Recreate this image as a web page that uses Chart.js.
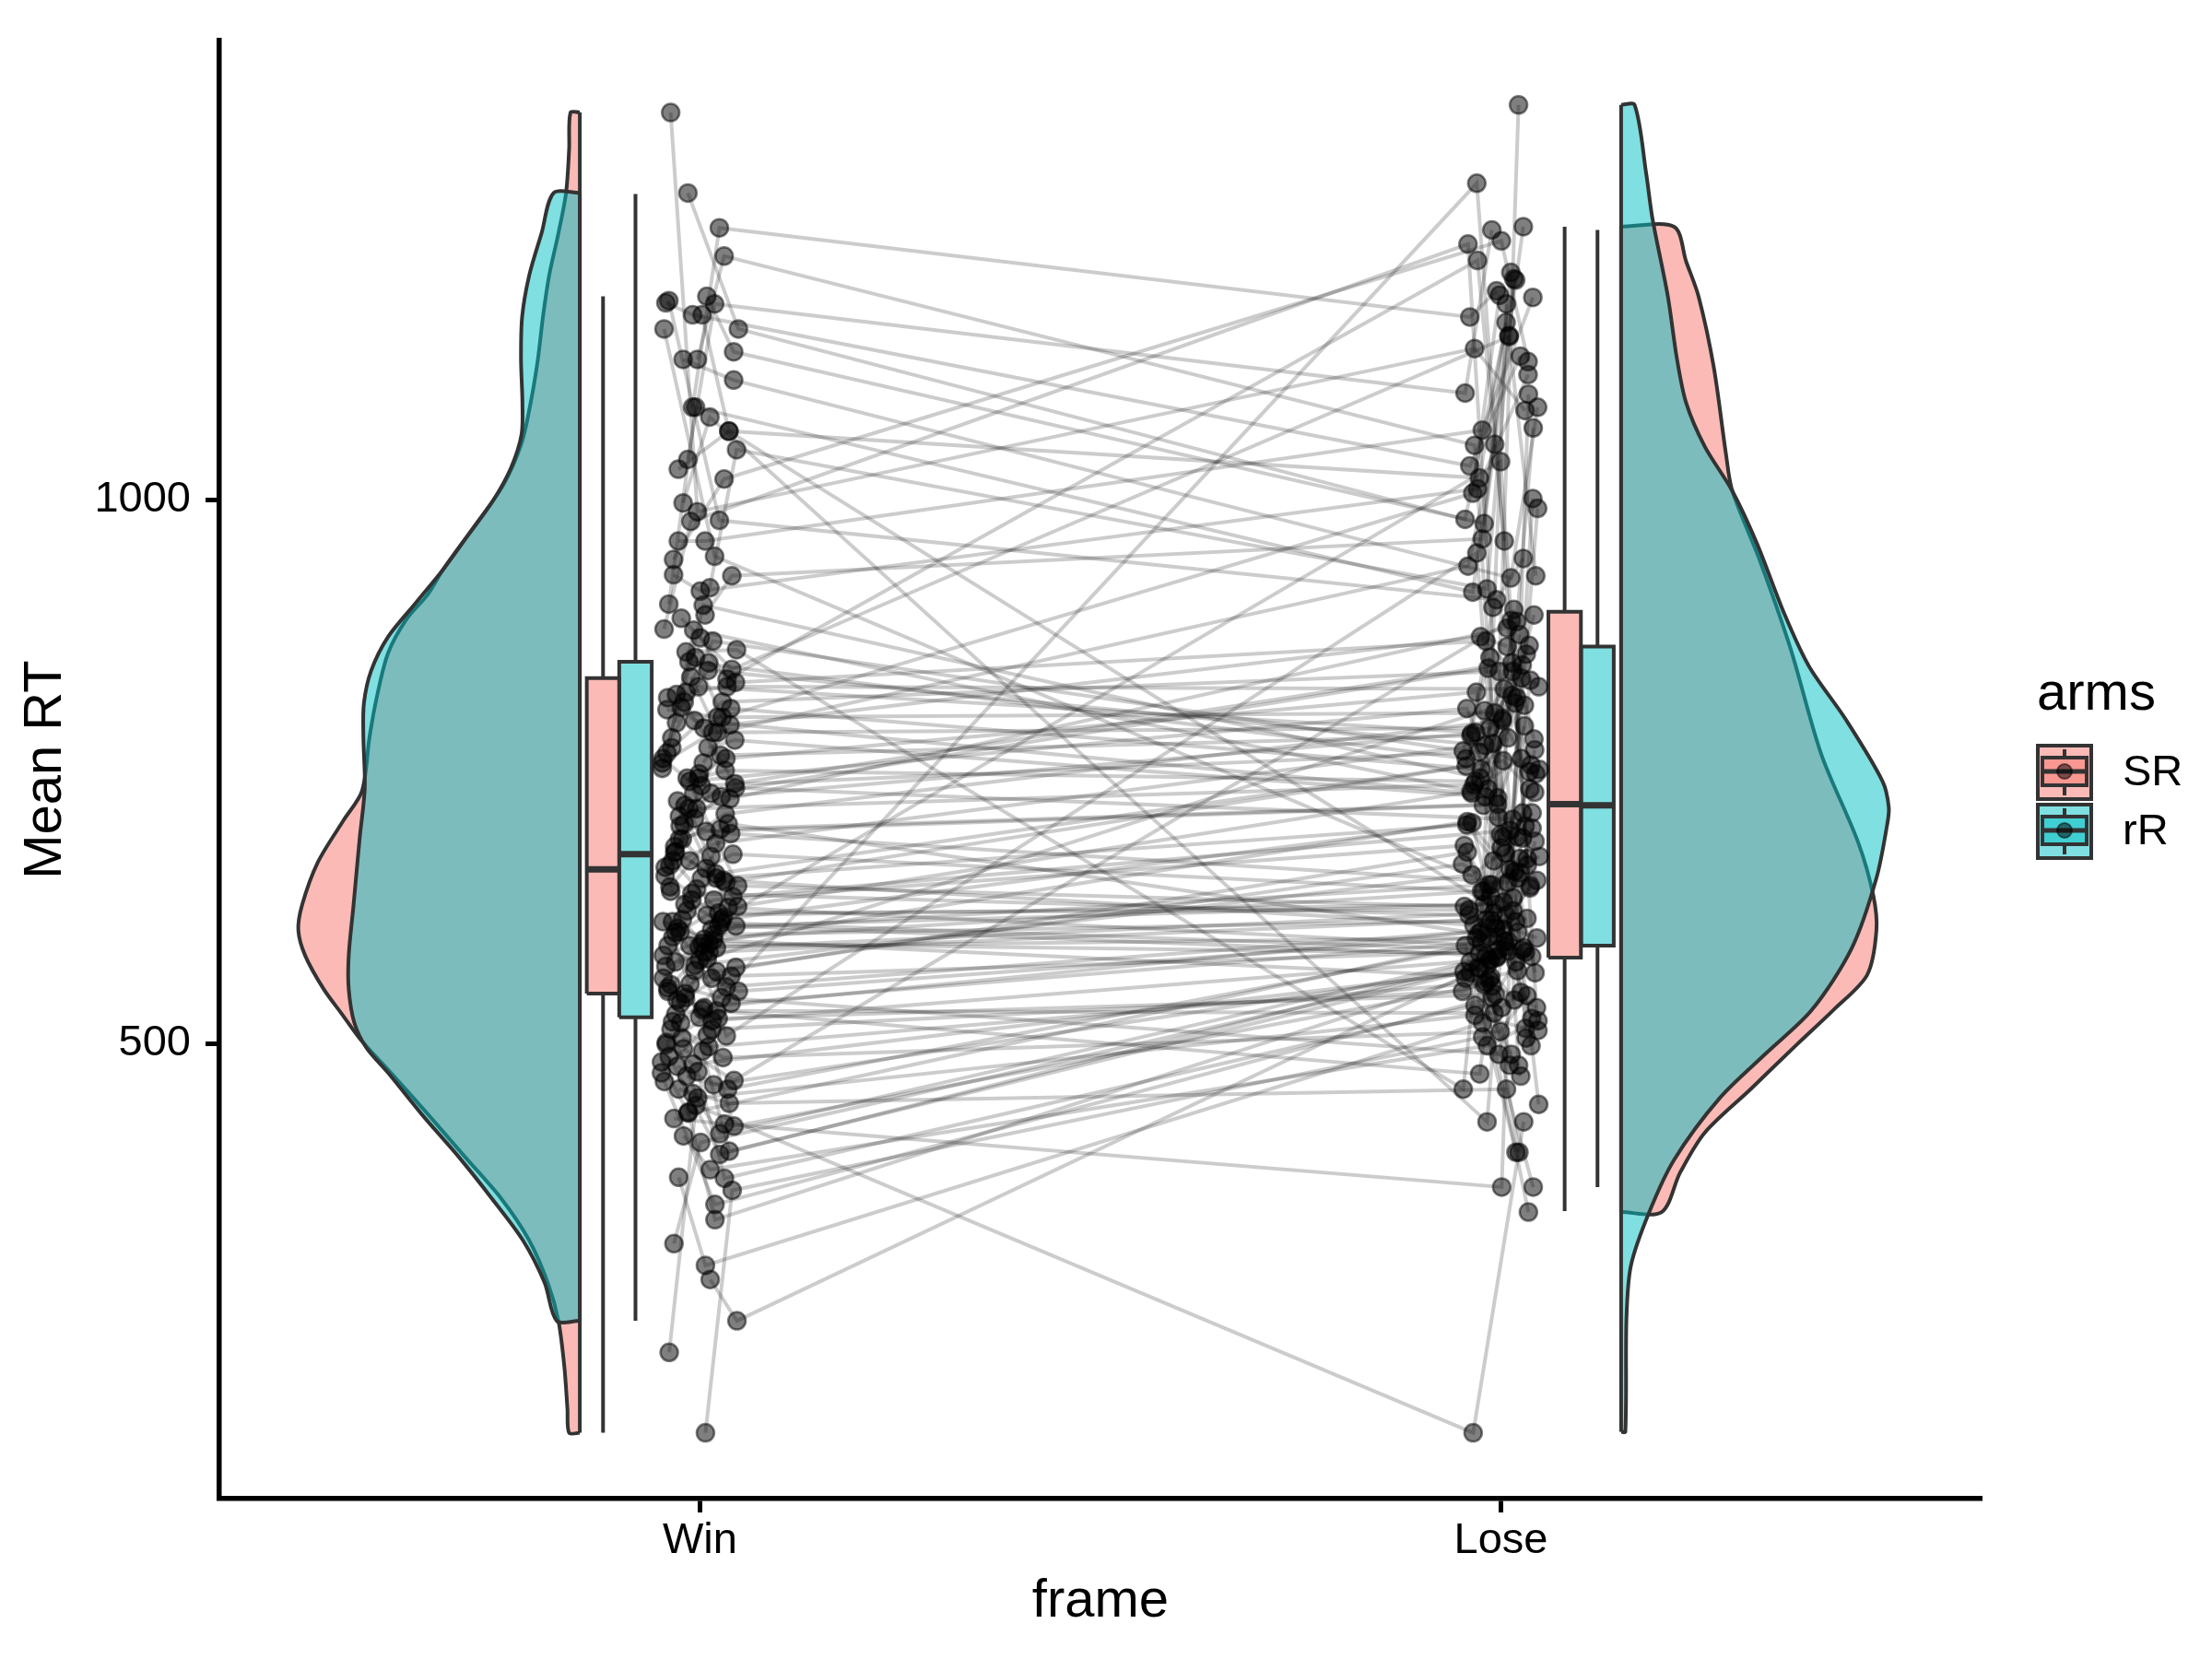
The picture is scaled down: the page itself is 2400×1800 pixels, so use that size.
<!DOCTYPE html>
<html>
<head>
<meta charset="utf-8">
<script src="https://cdn.jsdelivr.net/npm/chart.js@4.4.1/dist/chart.umd.min.js"></script>
<style>
html,body{margin:0;padding:0;background:#ffffff;}
#wrap{width:2400px;height:1800px;}
</style>
</head>
<body>
<div id="wrap"><canvas id="c" width="2400" height="1800"></canvas></div>
<script>
// ---------------- data ----------------
const frames = ['Win', 'Lose'];
const arms = ['SR', 'rR'];
const legendTitle = 'arms';
const xTitle = 'frame';
const yTitle = 'Mean RT';
const yTicks = [500, 1000];

// per-subject mean RT (subject i in the same position of every array)
const winSR = [142,216,283,316,352,377,398,415,426,437,
  445,454,466,474,483,493,499,508,513,521,
  527,530,537,542,546,552,555,562,567,570,
  577,581,584,590,592,598,600,606,608,614,
  616,622,625,632,635,642,645,652,654,661,
  664,672,676,684,688,697,702,711,716,725,
  730,739,744,753,758,767,772,781,786,795,
  800,809,814,823,828,837,844,855,862,873,
  881,894,904,919,931,948,962,981,997,1019,
  1037,1063,1085,1110,1129,1157,1170,1181,1187,1356,
  560,575,588,603,611,628,648,668,693,707,
  735,748,762,790,818,850,612,595,540,523,
  505,487,470,458];
const winRR = [365,443,245,409,465,296,488,384,431,338,
  458,417,495,376,436,401,481,424,450,473,
  531,501,578,554,513,602,566,519,614,542,
  507,590,537,572,608,524,560,596,548,584,
  668,632,723,620,688,650,744,702,638,674,
  716,626,737,662,695,644,730,681,656,709,
  765,814,751,851,793,880,779,828,758,903,
  807,843,772,870,821,786,891,800,860,835,
  980,930,1085,1046,916,1157,962,1183,1076,945,
  1180,1028,1250,1129,1224,1282,1063,1170,1136,989,
  548,592,571,618,640,605,676,652,700,727,
  719,762,741,808,797,832,589,612,533,551,
  497,520,462,479];
const loseSR = [506,428,572,345,542,1066,579,521,368,560,
  458,575,889,535,400,569,470,554,514,577,
  834,528,565,490,548,605,676,585,703,634,
  951,652,593,689,581,664,613,712,628,597,
  1035,682,589,623,696,609,658,601,670,640,
  811,734,866,776,894,720,444,797,755,882,
  783,850,741,818,874,762,727,858,790,498,
  804,748,842,769,826,939,1150,1006,899,1220,
  480,964,1251,918,1115,646,1186,908,992,1238,
  1098,618,1168,928,1050,1202,1020,1132,978,1082,
  598,643,620,731,586,672,760,701,648,785,
  706,823,690,752,848,870,615,561,580,545,
  533,511,566,594];
const loseRR = [480,142,540,570,400,519,588,498,1097,553,
  368,580,512,533,590,1180,565,490,526,575,
  472,547,806,584,559,645,610,686,598,665,
  630,704,594,655,622,1291,602,640,712,614,
  670,635,698,606,650,692,626,675,618,660,
  738,813,768,876,719,792,845,750,901,780,
  726,828,799,762,865,732,820,786,888,744,
  836,774,505,855,756,1051,930,1188,458,962,
  1235,1151,915,1203,1010,1363,1064,946,428,1127,
  1248,1001,1192,1085,680,982,1163,1031,1209,1139,
  612,583,657,628,700,646,734,668,770,708,
  752,690,808,781,730,842,597,567,603,586,
  556,544,577,523];

// half-violin outlines: RT value and relative density (1 = widest)
const winSRDensY = [1356,1322,1282,1245,1206,1168,1129,1090,1052,1013,975,936,913,890,859,820,782,732,705,666,627,604,581,550,527,504,473,435,396,357,319,280,245,203,164,142];
const winSRDens  = [0.033,0.038,0.049,0.076,0.109,0.131,0.149,0.174,0.207,0.273,0.376,0.485,0.540,0.616,0.681,0.720,0.747,0.774,0.840,0.932,0.987,1.000,0.976,0.910,0.845,0.780,0.671,0.540,0.409,0.278,0.180,0.114,0.076,0.055,0.044,0.038];
const winRRDensY = [1282,1245,1206,1168,1129,1090,1060,1029,998,967,936,905,874,843,813,782,735,689,627,581,550,519,496,473,435,396,357,319,280,245];
const winRRDens  = [0.093,0.136,0.180,0.205,0.209,0.204,0.207,0.245,0.311,0.398,0.485,0.583,0.681,0.741,0.767,0.769,0.764,0.782,0.804,0.821,0.821,0.801,0.758,0.681,0.562,0.431,0.311,0.202,0.125,0.082];
const loseSRDensY = [1251,1219,1187,1122,1041,1008,944,863,766,685,636,604,563,531,499,458,418,381,345];
const loseSRDens  = [0.188,0.231,0.275,0.329,0.373,0.395,0.493,0.602,0.711,0.842,0.896,0.907,0.874,0.755,0.624,0.460,0.297,0.209,0.144];
const loseRRDensY = [1363,1300,1259,1187,1130,1089,1049,1008,960,895,847,798,741,717,701,652,588,531,491,450,393,345,296,248,143];
const loseRRDens  = [0.048,0.089,0.111,0.166,0.198,0.231,0.297,0.395,0.482,0.580,0.667,0.798,0.929,0.951,0.945,0.907,0.820,0.678,0.515,0.351,0.188,0.100,0.035,0.019,0.015];

// boxplot statistics in order Win-SR, Win-rR, Lose-SR, Lose-rR
const boxLower  = [142, 245, 346, 368];
const boxQ1     = [546, 524, 579, 590];
const boxMedian = [660, 674, 720, 719];
const boxQ3     = [836, 851, 897, 865];
const boxUpper  = [1187, 1281, 1251, 1248];

// ---------------- styling / geometry ----------------
const FONT = '"Liberation Sans", Arial, Helvetica, sans-serif';
const armFill = ['rgba(248,118,109,0.5)', 'rgba(0,191,196,0.5)'];
const framePos = [1, 2];
const violinSide = [-1, 1];
const violinGap = 0.15;
const violinScale = 0.3514;
const boxOffsets = [[-0.121, -0.0805], [0.0795, 0.1205]];
const boxHalf = 0.0203;
const DARK = '#333333';

function jit(i, k) {
  return ((((i + 1) * 7919 + (k + 3) * 104729) % 211) / 210 - 0.5) * 0.096;
}

const violinY = [[winSRDensY, winRRDensY], [loseSRDensY, loseRRDensY]];
const violinD = [[winSRDens, winRRDens], [loseSRDens, loseRRDens]];
const values = [[winSR, winRR], [loseSR, loseRR]];

const datasets = [];

// violins
for (let f = 0; f < 2; f++) {
  for (let a = 0; a < 2; a++) {
    const ys = violinY[f][a], ds = violinD[f][a];
    const side = violinSide[f];
    const edge = framePos[f] + side * violinGap;
    const top = ys[0], bot = ys[ys.length - 1];
    const pts = [{x: edge, y: top}];
    ys.forEach((y, k) => pts.push({x: edge + side * ds[k] * violinScale, y: y}));
    pts.push({x: edge, y: bot});
    datasets.push({
      type: 'line', data: pts, borderColor: DARK, borderWidth: 4,
      backgroundColor: armFill[a], fill: 'shape', tension: 0.3,
      pointRadius: 0, borderJoinStyle: 'round'
    });
    datasets.push({
      type: 'line', data: [{x: edge, y: top}, {x: edge, y: bot}],
      borderColor: DARK, borderWidth: 4, fill: false, pointRadius: 0, tension: 0
    });
  }
}

// boxplots
for (let f = 0; f < 2; f++) {
  for (let a = 0; a < 2; a++) {
    const b = f * 2 + a;
    const xc = framePos[f] + boxOffsets[f][a];
    const x0 = xc - boxHalf, x1 = xc + boxHalf;
    datasets.push({
      type: 'line',
      data: [{x: xc, y: boxQ3[b]}, {x: xc, y: boxUpper[b]}, {x: xc, y: null}, {x: xc, y: boxQ1[b]}, {x: xc, y: boxLower[b]}],
      borderColor: DARK, borderWidth: 4, fill: false, pointRadius: 0, spanGaps: false, tension: 0
    });
    datasets.push({
      type: 'line',
      data: [{x: x0, y: boxQ1[b]}, {x: x1, y: boxQ1[b]}, {x: x1, y: boxQ3[b]}, {x: x0, y: boxQ3[b]}, {x: x0, y: boxQ1[b]}],
      borderColor: DARK, borderWidth: 4, backgroundColor: armFill[a], fill: 'shape',
      pointRadius: 0, tension: 0, borderJoinStyle: 'miter'
    });
    datasets.push({
      type: 'line', data: [{x: x0, y: boxMedian[b]}, {x: x1, y: boxMedian[b]}],
      borderColor: DARK, borderWidth: 7, fill: false, pointRadius: 0, tension: 0
    });
  }
}

// subject lines
for (let i = 0; i < winSR.length; i++) {
  const w = [{x: framePos[0] + jit(i, 0), y: winSR[i]}, {x: framePos[0] + jit(i, 1), y: winRR[i]}].sort((p, q) => p.x - q.x);
  const l = [{x: framePos[1] + jit(i, 2), y: loseSR[i]}, {x: framePos[1] + jit(i, 3), y: loseRR[i]}].sort((p, q) => p.x - q.x);
  datasets.push({
    type: 'line', data: w.concat(l), borderColor: 'rgba(0,0,0,0.2)', borderWidth: 4,
    fill: false, pointRadius: 0, tension: 0
  });
}

// points
for (let f = 0; f < 2; f++) {
  for (let a = 0; a < 2; a++) {
    const vals = values[f][a];
    datasets.push({
      type: 'line', showLine: false,
      data: vals.map((v, i) => ({x: framePos[f] + jit(i, f * 2 + a), y: v})),
      pointRadius: 9.5, pointBorderWidth: 2.5,
      pointBackgroundColor: 'rgba(0,0,0,0.5)', pointBorderColor: 'rgba(0,0,0,0.5)',
      fill: false
    });
  }
}

datasets.forEach((d, k) => { d.order = datasets.length - k; });

// legend drawn with the chart
const armsLegend = {
  id: 'armsLegend',
  afterDraw(chart) {
    const ctx = chart.ctx;
    ctx.save();
    ctx.fillStyle = '#000';
    ctx.textAlign = 'left';
    ctx.textBaseline = 'alphabetic';
    ctx.font = '58px ' + FONT;
    ctx.fillText(legendTitle, 2210, 770);
    arms.forEach((name, k) => {
      const x0 = 2209, y0 = 807 + k * 64, s = 62;
      ctx.fillStyle = armFill[k];
      ctx.fillRect(x0, y0, s, s);
      ctx.strokeStyle = DARK;
      ctx.lineWidth = 4;
      ctx.strokeRect(x0 + 2, y0 + 2, s - 4, s - 4);
      ctx.beginPath();
      ctx.moveTo(x0 + 31, y0 + 6); ctx.lineTo(x0 + 31, y0 + 15);
      ctx.moveTo(x0 + 31, y0 + 45); ctx.lineTo(x0 + 31, y0 + 56);
      ctx.stroke();
      ctx.fillStyle = armFill[k];
      ctx.fillRect(x0 + 7, y0 + 15, 48, 30);
      ctx.strokeRect(x0 + 7, y0 + 15, 48, 30);
      ctx.lineWidth = 5;
      ctx.beginPath(); ctx.moveTo(x0 + 7, y0 + 30); ctx.lineTo(x0 + 55, y0 + 30); ctx.stroke();
      ctx.beginPath(); ctx.arc(x0 + 31, y0 + 30, 8, 0, Math.PI * 2);
      ctx.fillStyle = 'rgba(0,0,0,0.5)'; ctx.fill();
      ctx.lineWidth = 2; ctx.strokeStyle = 'rgba(0,0,0,0.5)'; ctx.stroke();
      ctx.fillStyle = '#000';
      ctx.font = '47px ' + FONT;
      ctx.textBaseline = 'middle';
      ctx.fillText(name, 2303, y0 + 32);
      ctx.textBaseline = 'alphabetic';
    });
    ctx.restore();
  }
};

Chart.defaults.font.family = FONT;
Chart.defaults.color = '#000';

new Chart(document.getElementById('c'), {
  type: 'line',
  data: {datasets: datasets},
  options: {
    responsive: false,
    devicePixelRatio: 1,
    animation: false,
    events: [],
    layout: {padding: {top: 31, right: 250, bottom: 0, left: 0}},
    plugins: {legend: {display: false}, tooltip: {enabled: false}},
    scales: {
      x: {
        type: 'linear', min: 0.4, max: 2.6,
        afterBuildTicks: (s) => { s.ticks = framePos.map(v => ({value: v})); },
        afterFit: (s) => { s.height = 174; },
        ticks: {
          autoSkip: false, maxRotation: 0, padding: 3,
          font: {size: 47}, color: '#000',
          callback: (v) => { const k = framePos.indexOf(v); return k >= 0 ? frames[k] : ''; }
        },
        grid: {drawOnChartArea: false, drawTicks: true, tickLength: 15, tickWidth: 5, tickColor: '#000'},
        border: {display: true, color: '#000', width: 5.5},
        title: {display: true, text: xTitle, font: {size: 58, lineHeight: 1}, color: '#000', padding: {top: 0, bottom: 33}}
      },
      y: {
        type: 'linear', min: 81.5, max: 1422,
        afterBuildTicks: (s) => { s.ticks = yTicks.map(v => ({value: v})); },
        afterFit: (s) => { s.width = 238; },
        ticks: {autoSkip: false, padding: 16, font: {size: 47}, color: '#000', callback: (v) => String(v)},
        grid: {drawOnChartArea: false, drawTicks: true, tickLength: 15, tickWidth: 5, tickColor: '#000'},
        border: {display: true, color: '#000', width: 5.5},
        title: {display: true, text: yTitle, font: {size: 58, lineHeight: 1}, color: '#000', padding: {top: 21, bottom: 0}}
      }
    }
  },
  plugins: [armsLegend]
});
</script>
</body>
</html>
